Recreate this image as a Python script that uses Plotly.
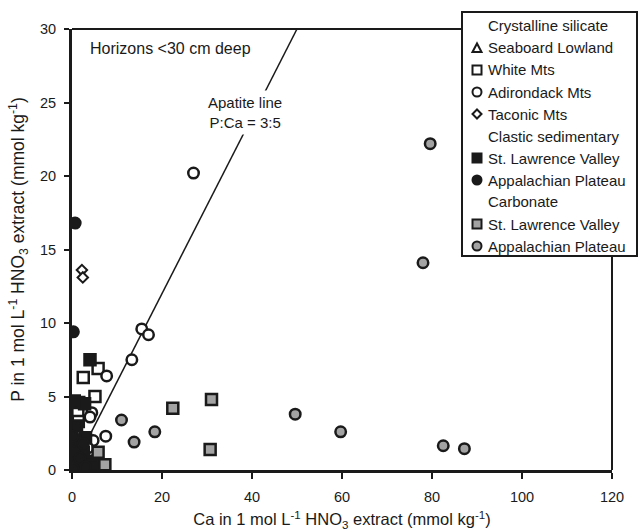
import plotly.graph_objects as go

# ---- data (Ca, P) mmol/kg ----
seaboard_ca = [0.5, 1.2, 2.2]
seaboard_p = [0.8, 1.5, 0.6]

white_ca = [2.5, 5.8, 5.1, 1.3, 1.4, 3.0, 0.8]
white_p = [6.3, 6.9, 5.0, 3.9, 3.3, 2.0, 1.0]

adirondack_ca = [27.0, 15.5, 17.0, 13.3, 7.7, 4.4, 4.0, 7.5, 4.7, 3.5, 2.5]
adirondack_p = [20.2, 9.6, 9.2, 7.5, 6.4, 3.9, 3.6, 2.3, 2.0, 1.5, 1.0]

taconic_ca = [2.2, 2.4]
taconic_p = [13.6, 13.1]

clastic_slv_ca = [4.0, 0.5, 1.5, 2.8, 1.0, 0.5, 2.0, 1.0, 2.5, 3.5, 1.5, 0.8, 3.0, 4.5, 2.0]
clastic_slv_p = [7.5, 4.7, 4.6, 4.5, 3.0, 2.0, 2.0, 1.0, 1.2, 0.6, 0.4, 0.2, 2.2, 0.3, 0.1]

clastic_ap_ca = [0.7, 0.3, 0.2, 0.5, 1.0, 2.5, 1.8, 3.0, 0.2]
clastic_ap_p = [16.8, 9.4, 2.3, 1.2, 0.5, 1.8, 0.8, 0.2, 0.1]

carb_slv_ca = [31.0, 22.4, 30.7, 5.8, 7.3]
carb_slv_p = [4.8, 4.2, 1.4, 1.2, 0.35]

carb_ap_ca = [79.6, 78.0, 49.6, 59.7, 82.5, 87.2, 11.0, 13.8, 18.4]
carb_ap_p = [22.2, 14.1, 3.8, 2.6, 1.65, 1.45, 3.4, 1.9, 2.6]

apatite_ca = [0, 50]
apatite_p = [0, 30]

legend_labels = ["Crystalline silicate", "Seaboard Lowland", "White Mts", "Adirondack Mts",
                 "Taconic Mts", "Clastic sedimentary", "St. Lawrence Valley",
                 "Appalachian Plateau", "Carbonate", "St. Lawrence Valley",
                 "Appalachian Plateau"]

INK = "#1a1a1a"
GRAY = "#a3a3a3"
FONT = "Liberation Sans, Arial, sans-serif"

W, H = 638, 531
ML, MR, MT, MB = 72, 26, 29, 61
PW, PH = W - ML - MR, H - MT - MB

fig = go.Figure()
fig.add_trace(go.Scatter(x=apatite_ca, y=apatite_p, mode="lines",
                         line=dict(color=INK, width=1.5), showlegend=False, hoverinfo="skip"))

def series(name, x, y, symbol, fill, size, lw=2.5):
    fig.add_trace(go.Scatter(x=x, y=y, mode="markers", name=name, showlegend=False,
                             marker=dict(symbol=symbol, size=size, color=fill,
                                         line=dict(color=INK, width=lw))))

series("Seaboard Lowland", seaboard_ca, seaboard_p, "triangle-up", "white", 10)
series("White Mts", white_ca, white_p, "square", "white", 11)
series("Adirondack Mts", adirondack_ca, adirondack_p, "circle", "white", 10.5)
series("Taconic Mts", taconic_ca, taconic_p, "diamond", "white", 8, 2)
series("Clastic St. Lawrence Valley", clastic_slv_ca, clastic_slv_p, "square", INK, 11)
series("Clastic Appalachian Plateau", clastic_ap_ca, clastic_ap_p, "circle", INK, 11, 2)
series("Carbonate St. Lawrence Valley", carb_slv_ca, carb_slv_p, "square", GRAY, 11)
series("Carbonate Appalachian Plateau", carb_ap_ca, carb_ap_p, "circle", GRAY, 10.5)

fig.update_layout(
    width=W, height=H,
    margin=dict(l=ML, r=MR, t=MT, b=MB),
    plot_bgcolor="white", paper_bgcolor="white",
    font=dict(family=FONT, size=14, color=INK),
    showlegend=False,
    xaxis=dict(range=[0, 120], tickvals=[0, 20, 40, 60, 80, 100, 120],
               showgrid=False, zeroline=False, showline=True, linecolor=INK,
               linewidth=3, ticks="outside", ticklen=6, tickwidth=2, tickcolor=INK,
               tickfont=dict(size=14.5), automargin=False, ticklabelstandoff=6,
               title=dict(text="Ca in 1 mol L<sup>-1</sup> HNO<sub>3</sub> extract (mmol kg<sup>-1</sup>)",
                          font=dict(size=16.5), standoff=10)),
    yaxis=dict(range=[0, 30], tickvals=[0, 5, 10, 15, 20, 25, 30],
               showgrid=False, zeroline=False, showline=True, linecolor=INK,
               linewidth=3, ticks="outside", ticklen=5, tickwidth=2, tickcolor=INK,
               tickfont=dict(size=14.5), automargin=False, ticklabelstandoff=5,
               title=dict(text="P in 1 mol L<sup>-1</sup> HNO<sub>3</sub> extract (mmol kg<sup>-1</sup>)",
                          font=dict(size=17.5), standoff=11)),
)

def px_x(px):
    return (px - ML) / PW

def px_y(py):
    return (H - MB - py) / PH

# top and right frame lines
fig.add_shape(type="line", xref="paper", yref="paper", x0=0, x1=1, y0=1, y1=1,
              line=dict(color=INK, width=2), layer="above")
fig.add_shape(type="line", xref="paper", yref="paper", x0=1, x1=1, y0=0, y1=1,
              line=dict(color=INK, width=2), layer="above")

# ---- manual legend box ----
fig.add_shape(type="rect", xref="paper", yref="paper",
              x0=px_x(462), x1=px_x(637), y0=px_y(256), y1=px_y(12),
              fillcolor="white", line=dict(color=INK, width=2), layer="above")

row_y = [26 + 22 * i for i in range(11)]
sym_x = 477
text_x = 486
r = 4.5
sym_specs = [None, ("tri", "white"), ("sq", "white"), ("ci", "white"), ("di", "white"),
             None, ("sq", INK), ("ci", INK), None, ("sq", GRAY), ("ci", GRAY)]

for label, yy, spec in zip(legend_labels, row_y, sym_specs):
    fig.add_annotation(x=px_x(text_x), y=px_y(yy), xref="paper", yref="paper",
                       text=label, showarrow=False, xanchor="left", yanchor="middle",
                       font=dict(size=15, color=INK))
    if spec is None:
        continue
    kind, fill = spec
    lw = 2
    if kind == "sq":
        fig.add_shape(type="rect", xref="paper", yref="paper",
                      x0=px_x(sym_x - r), x1=px_x(sym_x + r),
                      y0=px_y(yy + r), y1=px_y(yy - r),
                      fillcolor=fill, line=dict(color=INK, width=lw), layer="above")
    elif kind == "ci":
        fig.add_shape(type="circle", xref="paper", yref="paper",
                      x0=px_x(sym_x - r), x1=px_x(sym_x + r),
                      y0=px_y(yy + r), y1=px_y(yy - r),
                      fillcolor=fill, line=dict(color=INK, width=lw), layer="above")
    elif kind == "tri":
        path = "M {} {} L {} {} L {} {} Z".format(
            px_x(sym_x - r), px_y(yy + r - 0.5), px_x(sym_x + r), px_y(yy + r - 0.5),
            px_x(sym_x), px_y(yy - r))
        fig.add_shape(type="path", xref="paper", yref="paper", path=path,
                      fillcolor=fill, line=dict(color=INK, width=lw), layer="above")
    elif kind == "di":
        path = "M {} {} L {} {} L {} {} L {} {} Z".format(
            px_x(sym_x), px_y(yy - r), px_x(sym_x + r), px_y(yy),
            px_x(sym_x), px_y(yy + r), px_x(sym_x - r), px_y(yy))
        fig.add_shape(type="path", xref="paper", yref="paper", path=path,
                      fillcolor=fill, line=dict(color=INK, width=lw), layer="above")

fig.add_annotation(x=3.6, y=28.7, xref="x", yref="y", text="Horizons <30 cm deep",
                   showarrow=False, xanchor="left", yanchor="middle", font=dict(size=16))
fig.add_annotation(x=38.4, y=24.3, xref="x", yref="y", text="Apatite line<br>P:Ca = 3:5",
                   showarrow=False, font=dict(size=15), bgcolor="white", borderpad=3)

fig.write_html("out.html", config={"displayModeBar": False},
               post_script="document.body.style.margin='0px';document.body.style.overflow='hidden';")
